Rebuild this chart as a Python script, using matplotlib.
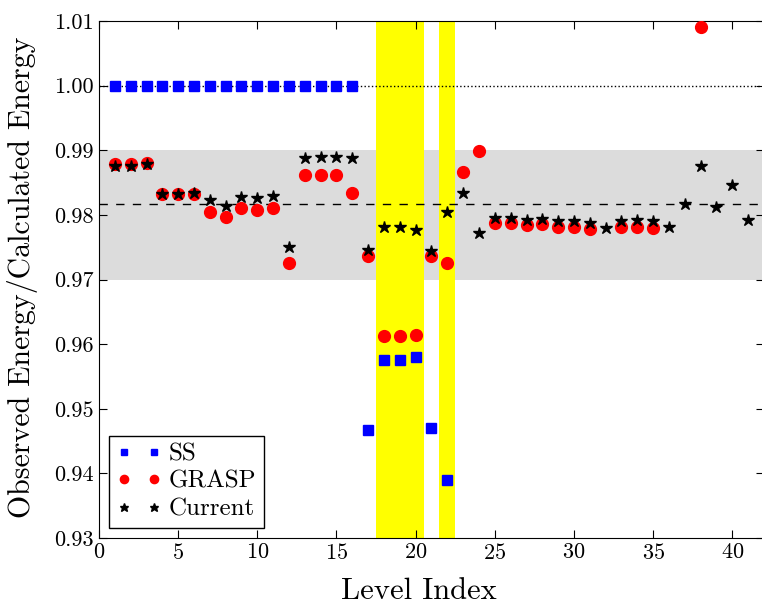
"""Observed/calculated energy ratio per level: SS, GRASP and current calculation"""
import matplotlib
matplotlib.use('Agg')
import matplotlib.pyplot as plt
import numpy as np

plt.rcParams.update({'font.family': 'serif', 'font.serif': ['cmr10'],
                     'mathtext.fontset': 'cm', 'axes.formatter.use_mathtext': True,
                     'xtick.direction': 'in', 'ytick.direction': 'in',
                     'xtick.top': True, 'ytick.right': True,
                     'xtick.major.size': 6, 'ytick.major.size': 6})

# SS ratios, levels 1-22
ss_levels = np.arange(1, 23)
ss_ratio = [1.000] * 16 + [0.9467, 0.9576, 0.9576, 0.9580, 0.9470, 0.9390]

# GRASP ratios
grasp_levels = list(range(1, 32)) + [33, 34, 35, 38]
grasp_ratio = [0.9879, 0.9879, 0.9881, 0.9832, 0.9832, 0.9832, 0.9805, 0.9797,
               0.9810, 0.9807, 0.9810, 0.9726, 0.9861, 0.9861, 0.9861, 0.9834,
               0.9736, 0.9612, 0.9612, 0.9614, 0.9736, 0.9726, 0.9866, 0.9899,
               0.9788, 0.9788, 0.9784, 0.9786, 0.9782, 0.9782, 0.9778,
               0.9782, 0.9781, 0.9780, 1.0091]

# current calculation, levels 1-41
cur_levels = np.arange(1, 42)
cur_ratio = [0.9875, 0.9875, 0.9878, 0.9833, 0.9832, 0.9834, 0.9823, 0.9814,
             0.9828, 0.9826, 0.9829, 0.9750, 0.9888, 0.9889, 0.9889, 0.9888,
             0.9745, 0.9782, 0.9782, 0.9777, 0.9744, 0.9805, 0.9834, 0.9772,
             0.9795, 0.9795, 0.9792, 0.9794, 0.9791, 0.9791, 0.9788, 0.9779,
             0.9791, 0.9792, 0.9791, 0.9782, 0.9817, 0.9875, 0.9812, 0.9846,
             0.9792]

mean_ratio = 0.9817
band = (0.970, 0.990)
highlight = [(17.5, 20.5), (21.5, 22.5)]

fig = plt.figure(figsize=(7.62, 6.05), dpi=100)
ax = fig.add_axes([99/762, 1 - 538/605, 665/762, 517/605])

ax.axhspan(*band, color='#dcdcdc', lw=0, zorder=0)
for lo, hi in highlight:
    ax.axvspan(lo, hi, color='yellow', lw=0, zorder=1)
ax.axhline(1.0, color='black', ls=':', lw=1, zorder=2)
ax.axhline(mean_ratio, color='black', ls=(0, (6, 6)), lw=1, zorder=2)

ax.plot(ss_levels, ss_ratio, 's', color='blue', mec='blue', ms=7, label='SS', zorder=3)
ax.plot(grasp_levels, grasp_ratio, 'o', color='red', mec='red', ms=8.5, label='GRASP', zorder=3)
ax.plot(cur_levels, cur_ratio, '*', color='black', ms=9, label='Current', zorder=4)

ax.set_xlim(0, 42)
ax.set_ylim(0.93, 1.01)
ax.set_xticks(np.arange(0, 41, 5))
ax.set_yticks(np.arange(0.93, 1.011, 0.01))
ax.set_yticklabels([f'{v:.2f}' for v in np.arange(0.93, 1.011, 0.01)])
ax.tick_params(labelsize=16)
ax.set_xlabel('Level Index', fontsize=22)
ax.set_ylabel('Observed Energy/Calculated Energy', fontsize=21.5)
ax.xaxis.set_label_coords(0.481, -0.076)
ax.yaxis.set_label_coords(-0.092, 0.505)

leg = ax.legend(loc='lower left', numpoints=2, fontsize=18, fancybox=False,
                edgecolor='black', framealpha=1, handletextpad=0.3,
                handlelength=1.8, markerscale=0.7, labelspacing=0.2,
                borderpad=0.3, borderaxespad=0.4)
leg.get_frame().set_linewidth(1)

fig.savefig('out.png', dpi=100, facecolor='white')
